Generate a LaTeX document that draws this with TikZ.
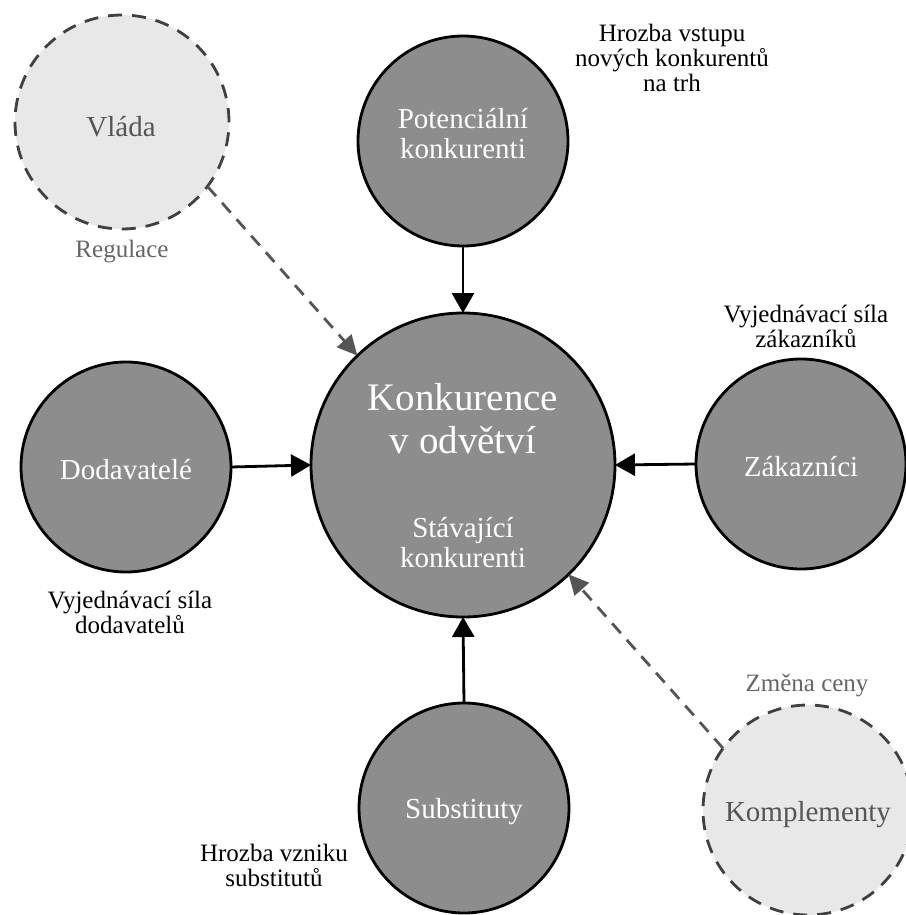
\documentclass[tikz,border=0pt]{standalone}
\usepackage{fontspec}
\setmainfont{Liberation Serif}
\usetikzlibrary{arrows.meta}
\definecolor{cdark}{HTML}{8D8D8D}
\definecolor{clight}{HTML}{E8E8E8}
\definecolor{cdash}{HTML}{404040}
\definecolor{clighttext}{HTML}{555555}
\definecolor{clabelgray}{HTML}{666666}
\definecolor{carrowgray}{HTML}{555555}
\begin{document}
\begin{tikzpicture}[x=1pt,y=-1pt,
  darkcirc/.style={circle, draw=black, line width=2.8pt, fill=cdark, minimum size=#1, inner sep=0pt, outer sep=0pt},
  darkcirc/.default=210pt,
  lightcirc/.style={circle, draw=cdash, line width=2.8pt, dash pattern=on 14pt off 10pt, fill=clight, minimum size=#1, inner sep=0pt, outer sep=0pt},
  lightcirc/.default=210pt,
  wtext/.style={text=white, align=center, font=\fontsize{29}{30}\selectfont, inner sep=0pt},
  wbig/.style={text=white, align=center, font=\fontsize{39}{43}\selectfont, inner sep=0pt},
  gtext/.style={text=clighttext, align=center, font=\fontsize{29}{30}\selectfont, inner sep=0pt},
  blabel/.style={text=black, align=center, font=\fontsize{25}{25}\selectfont, inner sep=0pt},
  glabel/.style={text=clabelgray, align=center, font=\fontsize{25}{25}\selectfont, inner sep=0pt},
  solidarrow/.style={draw=black, line width=2.8pt, -{Triangle[length=20pt,width=22pt]}},
  dasharrow/.style={draw=carrowgray, line width=2.8pt, dash pattern=on 13pt off 9pt, -{Triangle[length=20pt,width=19pt]}}
]
\useasboundingbox[fill=white] (0,0) rectangle (905,915);

% circles
\node[lightcirc=214pt] (vlada) at (122,122) {};
\node[darkcirc] (potenc) at (463,141) {};
\node[darkcirc=304pt] (central) at (463,465) {};
\node[darkcirc] (dodav) at (126,467) {};
\node[darkcirc] (zakaz) at (801,464) {};
\node[darkcirc] (subst) at (464,808) {};
\node[lightcirc] (kompl) at (808,810) {};

% circle texts
\node[gtext] (tvlada) at (121,127) {Vláda};
\node[wtext] (tpotenc) at (463,134) {Potenciální\\konkurenti};
\node[wbig] (tcentral) at (463,419) {Konkurence\\v odvětví};
\node[wtext] (tstav) at (463,543) {Stávající\\konkurenti};
\node[wtext] (tdodav) at (126,470) {Dodavatelé};
\node[wtext] (tzakaz) at (801,467) {Zákazníci};
\node[wtext] (tsubst) at (464,812) {Substituty};
\node[gtext] (tkompl) at (808,815) {Komplementy};

% outside labels
\node[blabel] (lhrozba) at (672,58) {Hrozba vstupu\\nových konkurentů\\na trh};
\node[glabel] (lregul) at (122,252) {Regulace};
\node[blabel] (lzakaz) at (806,326) {Vyjednávací síla\\zákazníků};
\node[blabel] (ldodav) at (130,612) {Vyjednávací síla\\dodavatelů};
\node[glabel] (lzmena) at (807,685) {Změna ceny};
\node[blabel] (lsubst) at (274,865) {Hrozba vzniku\\substitutů};

% connectors
\draw[solidarrow] (potenc.south) -- (central.north);
\draw[solidarrow] (dodav.east) -- (central.west);
\draw[solidarrow] (zakaz.west) -- (central.east);
\draw[solidarrow] (subst.north) -- (central.south);
\draw[dasharrow] (vlada.-37) -- (central.134);
\draw[dasharrow] (kompl.144) -- (central.-46);
\end{tikzpicture}
\end{document}
